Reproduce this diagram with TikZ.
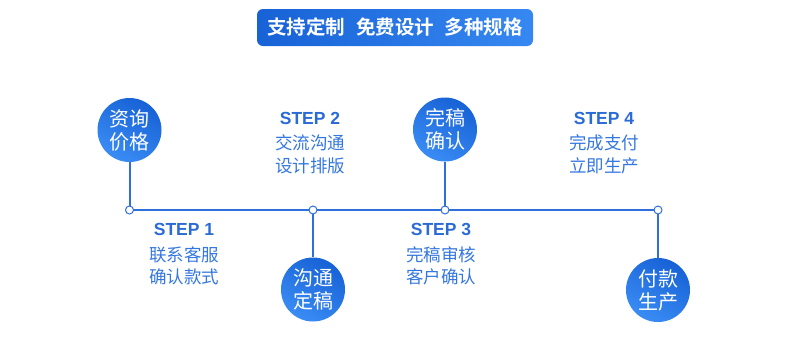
\documentclass[tikz,border=0pt]{standalone}
\usepackage{fontspec}
\setmainfont{Liberation Sans}
\newfontfamily\cjk{Noto Sans CJK SC}
\newfontfamily\cjkb{Noto Sans CJK SC Bold}
\definecolor{lineblue}{HTML}{2F6FDC}
\definecolor{txtblue}{HTML}{3577E0}
\definecolor{stepblue}{HTML}{2A6BD6}
\definecolor{gdark}{HTML}{1762D6}
\definecolor{glight}{HTML}{3A8CF4}
\begin{document}
\begin{tikzpicture}[x=1pt,y=-1pt,
  bubble/.style={circle,minimum size=64pt,inner sep=0pt,shading=axis,
    top color=gdark,bottom color=glight,shading angle=-30,text=white,
    font=\cjk\fontsize{20}{23}\selectfont,align=center},
  marker/.style={circle,draw=lineblue,line width=1pt,fill=white,minimum size=8pt,inner sep=0pt},
  conn/.style={draw=lineblue,line width=2pt},
  steptitle/.style={font=\bfseries\fontsize{17.5}{20}\selectfont,text=stepblue,anchor=base},
  steptext/.style={font=\cjk\fontsize{17.5}{20}\selectfont,text=txtblue,anchor=center,inner sep=0pt}]
\useasboundingbox (0,0) rectangle (790,349);
% title
\node[rounded corners=6pt,left color=gdark,right color=glight!90!gdark,minimum width=276pt,minimum height=37pt,
  text=white,font=\cjkb\fontsize{19.5}{22}\selectfont] (title) at (395,27.5) {支持定制\hspace{0.55em}免费设计\hspace{0.55em}多种规格};
% markers
\coordinate (m1) at (129.5,210);
\coordinate (m2) at (313,210);
\coordinate (m3) at (445,210);
\coordinate (m4) at (658,210);
% bubbles
\node[bubble] (b1) at (129.5,130) {资询\\价格};
\node[bubble] (b2) at (313,289.5) {沟通\\定稿};
\node[bubble] (b3) at (445,129.5) {完稿\\确认};
\node[bubble] (b4) at (658,290) {付款\\生产};
% connectors
\draw[conn] (m1) -- (m4);
\draw[conn] (b1) -- (m1);
\draw[conn] (m2) -- (b2);
\draw[conn] (b3) -- (m3);
\draw[conn] (m4) -- (b4);
\node[marker] (k1) at (m1) {};
\node[marker] (k2) at (m2) {};
\node[marker] (k3) at (m3) {};
\node[marker] (k4) at (m4) {};
% step labels
\node[steptitle] (s1) at (184,235) {STEP 1};
\node[steptext] (t1a) at (184,254.5) {联系客服};
\node[steptext] (t1b) at (184,276.5) {确认款式};
\node[steptitle] (s2) at (310,124) {STEP 2};
\node[steptext] (t2a) at (310,142.5) {交流沟通};
\node[steptext] (t2b) at (310,165.5) {设计排版};
\node[steptitle] (s3) at (441,235) {STEP 3};
\node[steptext] (t3a) at (441,254.5) {完稿审核};
\node[steptext] (t3b) at (441,276.5) {客户确认};
\node[steptitle] (s4) at (604,124) {STEP 4};
\node[steptext] (t4a) at (604,142.5) {完成支付};
\node[steptext] (t4b) at (604,165.5) {立即生产};
\end{tikzpicture}
\end{document}
